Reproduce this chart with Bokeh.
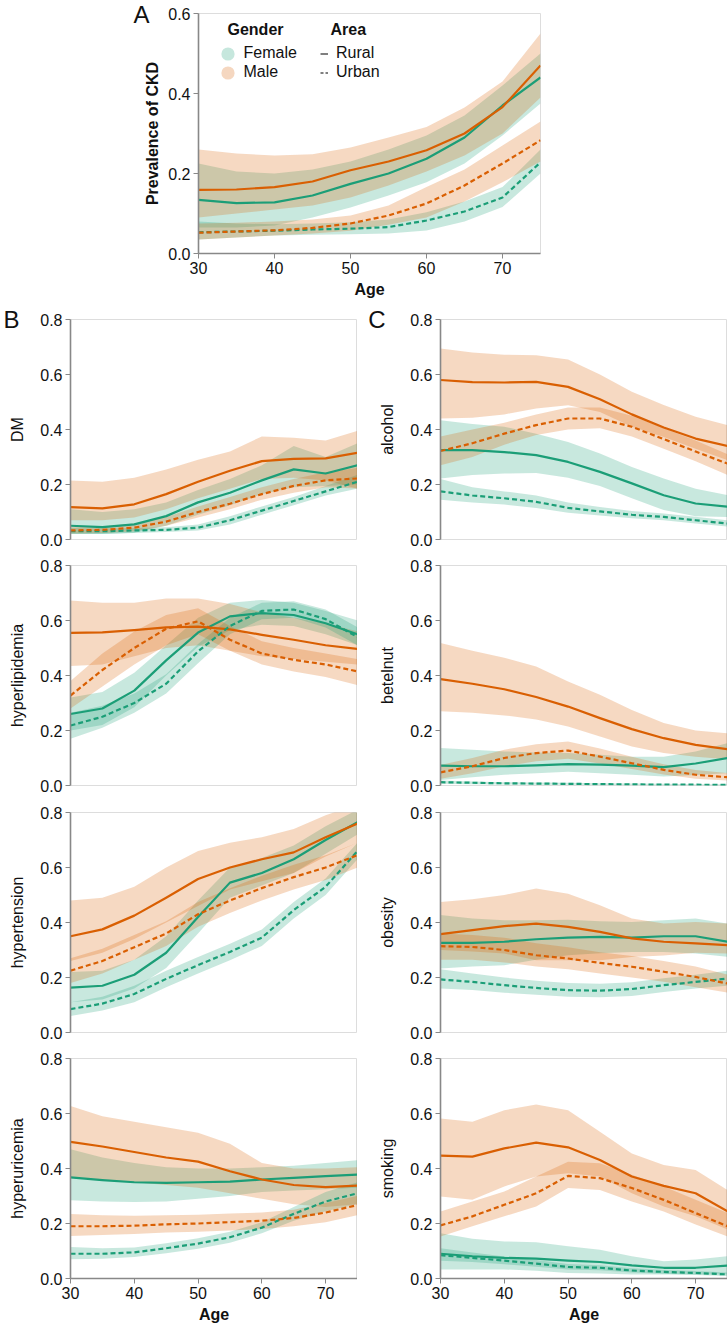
from bokeh.plotting import figure
from bokeh.layouts import column, row
from bokeh.models import (Range1d, FixedTicker, PrintfTickFormatter, Label, Legend,
                          LegendItem, LinearAxis)
from bokeh.embed import file_html
from bokeh.resources import INLINE

# ---------------- data ----------------
AGES = [30, 35, 40, 45, 50, 55, 60, 65, 70, 75]
X_TICKS = [30, 40, 50, 60, 70]
Y_TICKS_A = [0.0, 0.2, 0.4, 0.6]
Y_TICKS_BC = [0.0, 0.2, 0.4, 0.6, 0.8]
GENDERS = ["Female", "Male"]
AREAS = ["Rural", "Urban"]

# Panel A: prevalence of CKD
ckd_rf = [0.134, 0.126, 0.128, 0.145, 0.174, 0.2, 0.237, 0.29, 0.37, 0.44]
ckd_rf_lo = [0.065, 0.065, 0.07, 0.09, 0.115, 0.145, 0.178, 0.225, 0.295, 0.375]
ckd_rf_hi = [0.225, 0.205, 0.2, 0.21, 0.23, 0.26, 0.295, 0.345, 0.42, 0.5]
ckd_rm = [0.159, 0.16, 0.166, 0.18, 0.208, 0.23, 0.258, 0.3, 0.366, 0.47]
ckd_rm_lo = [0.09, 0.1, 0.11, 0.12, 0.14, 0.17, 0.205, 0.245, 0.3, 0.39]
ckd_rm_hi = [0.26, 0.25, 0.245, 0.248, 0.265, 0.29, 0.316, 0.365, 0.43, 0.55]
ckd_uf = [0.053, 0.055, 0.057, 0.06, 0.062, 0.066, 0.0825, 0.105, 0.14, 0.228]
ckd_uf_lo = [0.035, 0.04, 0.045, 0.047, 0.048, 0.05, 0.0575, 0.08, 0.116, 0.2]
ckd_uf_hi = [0.08, 0.075, 0.073, 0.075, 0.078, 0.085, 0.103, 0.13, 0.166, 0.26]
ckd_um = [0.052, 0.055, 0.058, 0.064, 0.075, 0.095, 0.125, 0.17, 0.225, 0.283]
ckd_um_lo = [0.035, 0.04, 0.045, 0.05, 0.057, 0.072, 0.09, 0.13, 0.178, 0.23]
ckd_um_hi = [0.075, 0.077, 0.08, 0.085, 0.095, 0.12, 0.166, 0.21, 0.27, 0.33]

# DM
dm_rm = [0.118, 0.113, 0.128, 0.165, 0.21, 0.25, 0.285, 0.293, 0.295, 0.315]
dm_rm_lo = [0.07, 0.07, 0.08, 0.11, 0.15, 0.185, 0.22, 0.225, 0.215, 0.185]
dm_rm_hi = [0.215, 0.21, 0.225, 0.255, 0.29, 0.32, 0.375, 0.37, 0.36, 0.395]
dm_rf = [0.05, 0.045, 0.055, 0.085, 0.135, 0.17, 0.215, 0.255, 0.24, 0.27]
dm_rf_lo = [0.02, 0.02, 0.025, 0.05, 0.09, 0.125, 0.165, 0.19, 0.195, 0.2]
dm_rf_hi = [0.11, 0.1, 0.11, 0.135, 0.18, 0.22, 0.27, 0.34, 0.3, 0.35]
dm_um = [0.033, 0.035, 0.043, 0.065, 0.1, 0.13, 0.165, 0.195, 0.215, 0.222]
dm_um_lo = [0.022, 0.024, 0.03, 0.05, 0.08, 0.11, 0.145, 0.17, 0.19, 0.185]
dm_um_hi = [0.045, 0.047, 0.058, 0.082, 0.12, 0.155, 0.19, 0.22, 0.245, 0.26]
dm_uf = [0.03, 0.03, 0.033, 0.035, 0.043, 0.07, 0.105, 0.14, 0.175, 0.21]
dm_uf_lo = [0.02, 0.02, 0.024, 0.027, 0.033, 0.055, 0.09, 0.125, 0.16, 0.185]
dm_uf_hi = [0.042, 0.04, 0.042, 0.045, 0.055, 0.085, 0.12, 0.155, 0.195, 0.235]

# hyperlipidemia
hl_rm = [0.555, 0.557, 0.565, 0.575, 0.578, 0.568, 0.548, 0.53, 0.51, 0.497]
hl_rm_lo = [0.435, 0.44, 0.47, 0.5, 0.51, 0.49, 0.47, 0.46, 0.45, 0.44]
hl_rm_hi = [0.673, 0.665, 0.665, 0.68, 0.68, 0.66, 0.63, 0.61, 0.59, 0.56]
hl_rf = [0.26, 0.28, 0.345, 0.455, 0.556, 0.615, 0.627, 0.62, 0.59, 0.55]
hl_rf_lo = [0.2, 0.22, 0.285, 0.4, 0.505, 0.565, 0.585, 0.58, 0.55, 0.51]
hl_rf_hi = [0.32, 0.34, 0.41, 0.51, 0.61, 0.665, 0.675, 0.665, 0.635, 0.6]
hl_um = [0.327, 0.42, 0.5, 0.57, 0.597, 0.53, 0.48, 0.457, 0.44, 0.415]
hl_um_lo = [0.28, 0.36, 0.44, 0.51, 0.55, 0.49, 0.44, 0.415, 0.395, 0.365]
hl_um_hi = [0.38, 0.48, 0.56, 0.62, 0.645, 0.58, 0.525, 0.5, 0.48, 0.46]
hl_uf = [0.218, 0.25, 0.3, 0.37, 0.488, 0.58, 0.635, 0.64, 0.605, 0.54]
hl_uf_lo = [0.17, 0.21, 0.265, 0.335, 0.445, 0.55, 0.605, 0.61, 0.575, 0.51]
hl_uf_hi = [0.265, 0.29, 0.335, 0.405, 0.515, 0.61, 0.665, 0.67, 0.64, 0.575]

# hypertension
ht_rm = [0.35, 0.375, 0.425, 0.49, 0.558, 0.6, 0.63, 0.655, 0.71, 0.76]
ht_rm_lo = [0.26, 0.29, 0.34, 0.4, 0.46, 0.52, 0.55, 0.58, 0.64, 0.69]
ht_rm_hi = [0.48, 0.49, 0.53, 0.6, 0.66, 0.69, 0.71, 0.74, 0.79, 0.83]
ht_rf = [0.163, 0.17, 0.21, 0.29, 0.42, 0.545, 0.58, 0.63, 0.7, 0.765]
ht_rf_lo = [0.11, 0.12, 0.16, 0.235, 0.36, 0.49, 0.535, 0.58, 0.65, 0.72]
ht_rf_hi = [0.22, 0.225, 0.265, 0.35, 0.48, 0.6, 0.635, 0.68, 0.75, 0.81]
ht_um = [0.225, 0.26, 0.31, 0.36, 0.43, 0.48, 0.525, 0.565, 0.6, 0.645]
ht_um_lo = [0.18, 0.215, 0.265, 0.315, 0.385, 0.435, 0.48, 0.52, 0.555, 0.6]
ht_um_hi = [0.27, 0.305, 0.355, 0.405, 0.475, 0.525, 0.57, 0.61, 0.645, 0.69]
ht_uf = [0.085, 0.105, 0.14, 0.195, 0.245, 0.293, 0.345, 0.445, 0.53, 0.66]
ht_uf_lo = [0.06, 0.08, 0.11, 0.165, 0.215, 0.263, 0.315, 0.415, 0.5, 0.63]
ht_uf_hi = [0.11, 0.13, 0.17, 0.225, 0.275, 0.323, 0.375, 0.475, 0.56, 0.69]

# hyperuricemia
hu_rm = [0.497, 0.48, 0.46, 0.44, 0.425, 0.39, 0.36, 0.34, 0.332, 0.338]
hu_rm_lo = [0.37, 0.36, 0.35, 0.34, 0.33, 0.31, 0.29, 0.27, 0.26, 0.27]
hu_rm_hi = [0.627, 0.59, 0.57, 0.55, 0.53, 0.49, 0.42, 0.4, 0.4, 0.405]
hu_rf = [0.368, 0.358, 0.35, 0.348, 0.35, 0.352, 0.36, 0.366, 0.372, 0.378]
hu_rf_lo = [0.285, 0.28, 0.278, 0.28, 0.29, 0.3, 0.315, 0.32, 0.325, 0.33]
hu_rf_hi = [0.47, 0.44, 0.42, 0.405, 0.4, 0.4, 0.405, 0.41, 0.42, 0.43]
hu_um = [0.19, 0.19, 0.192, 0.197, 0.2, 0.205, 0.21, 0.22, 0.24, 0.267]
hu_um_lo = [0.155, 0.158, 0.162, 0.167, 0.17, 0.175, 0.18, 0.19, 0.205, 0.23]
hu_um_hi = [0.235, 0.23, 0.228, 0.23, 0.232, 0.236, 0.24, 0.25, 0.275, 0.3]
hu_uf = [0.09, 0.09, 0.095, 0.11, 0.127, 0.15, 0.185, 0.235, 0.28, 0.31]
hu_uf_lo = [0.07, 0.072, 0.078, 0.092, 0.108, 0.13, 0.165, 0.21, 0.245, 0.27]
hu_uf_hi = [0.115, 0.11, 0.113, 0.128, 0.146, 0.17, 0.205, 0.26, 0.315, 0.35]

# alcohol
al_rm = [0.58, 0.572, 0.571, 0.573, 0.555, 0.51, 0.455, 0.407, 0.367, 0.34]
al_rm_lo = [0.44, 0.443, 0.455, 0.476, 0.488, 0.464, 0.41, 0.373, 0.33, 0.288]
al_rm_hi = [0.695, 0.68, 0.672, 0.67, 0.655, 0.6, 0.537, 0.489, 0.446, 0.416]
al_rf = [0.325, 0.325, 0.318, 0.307, 0.282, 0.246, 0.204, 0.161, 0.131, 0.119]
al_rf_lo = [0.222, 0.235, 0.24, 0.242, 0.225, 0.195, 0.15, 0.107, 0.085, 0.082]
al_rf_hi = [0.434, 0.42, 0.41, 0.385, 0.355, 0.313, 0.264, 0.222, 0.185, 0.161]
al_um = [0.322, 0.35, 0.385, 0.416, 0.44, 0.44, 0.41, 0.365, 0.32, 0.276]
al_um_lo = [0.27, 0.3, 0.345, 0.38, 0.4, 0.405, 0.375, 0.33, 0.285, 0.235]
al_um_hi = [0.375, 0.4, 0.425, 0.455, 0.48, 0.48, 0.45, 0.405, 0.36, 0.31]
al_uf = [0.175, 0.16, 0.15, 0.137, 0.115, 0.102, 0.09, 0.082, 0.07, 0.058]
al_uf_lo = [0.145, 0.135, 0.127, 0.115, 0.097, 0.087, 0.077, 0.07, 0.058, 0.047]
al_uf_hi = [0.22, 0.19, 0.175, 0.16, 0.135, 0.118, 0.104, 0.095, 0.083, 0.07]

# betelnut
bn_rm = [0.387, 0.37, 0.35, 0.322, 0.287, 0.245, 0.205, 0.172, 0.148, 0.132]
bn_rm_lo = [0.27, 0.265, 0.255, 0.24, 0.215, 0.178, 0.142, 0.118, 0.105, 0.095]
bn_rm_hi = [0.518, 0.49, 0.465, 0.433, 0.378, 0.33, 0.275, 0.227, 0.2, 0.19]
bn_rf = [0.072, 0.07, 0.07, 0.073, 0.078, 0.076, 0.072, 0.067, 0.08, 0.1]
bn_rf_lo = [0.02, 0.03, 0.039, 0.045, 0.05, 0.045, 0.039, 0.033, 0.038, 0.045]
bn_rf_hi = [0.136, 0.13, 0.124, 0.12, 0.118, 0.112, 0.105, 0.105, 0.124, 0.154]
bn_um = [0.048, 0.07, 0.1, 0.118, 0.127, 0.105, 0.081, 0.057, 0.039, 0.03]
bn_um_lo = [0.025, 0.045, 0.07, 0.088, 0.097, 0.08, 0.06, 0.04, 0.025, 0.018]
bn_um_hi = [0.075, 0.1, 0.13, 0.15, 0.16, 0.135, 0.105, 0.077, 0.056, 0.045]
bn_uf = [0.012, 0.01, 0.008, 0.007, 0.006, 0.005, 0.004, 0.003, 0.003, 0.002]
bn_uf_lo = [0.006, 0.005, 0.004, 0.003, 0.003, 0.002, 0.002, 0.001, 0.001, 0.0]
bn_uf_hi = [0.018, 0.015, 0.012, 0.011, 0.01, 0.008, 0.007, 0.006, 0.005, 0.005]

# obesity
ob_rm = [0.358, 0.372, 0.387, 0.396, 0.384, 0.366, 0.342, 0.33, 0.324, 0.318]
ob_rm_lo = [0.3, 0.295, 0.287, 0.263, 0.263, 0.263, 0.275, 0.28, 0.29, 0.287]
ob_rm_hi = [0.475, 0.485, 0.5, 0.524, 0.505, 0.463, 0.415, 0.396, 0.402, 0.396]
ob_rf = [0.326, 0.326, 0.33, 0.339, 0.345, 0.348, 0.345, 0.35, 0.35, 0.33]
ob_rf_lo = [0.233, 0.24, 0.245, 0.265, 0.281, 0.288, 0.293, 0.293, 0.287, 0.275]
ob_rf_hi = [0.427, 0.415, 0.408, 0.408, 0.41, 0.405, 0.402, 0.408, 0.415, 0.396]
ob_um = [0.314, 0.311, 0.3, 0.281, 0.269, 0.253, 0.239, 0.221, 0.202, 0.178]
ob_um_lo = [0.265, 0.265, 0.255, 0.24, 0.23, 0.215, 0.2, 0.185, 0.165, 0.145]
ob_um_hi = [0.36, 0.355, 0.345, 0.325, 0.31, 0.292, 0.278, 0.26, 0.24, 0.21]
ob_uf = [0.193, 0.184, 0.172, 0.162, 0.154, 0.152, 0.158, 0.172, 0.184, 0.196]
ob_uf_lo = [0.16, 0.155, 0.145, 0.137, 0.13, 0.128, 0.133, 0.147, 0.16, 0.17]
ob_uf_hi = [0.23, 0.215, 0.2, 0.188, 0.18, 0.177, 0.183, 0.197, 0.21, 0.225]

# smoking
sm_rm = [0.447, 0.443, 0.473, 0.494, 0.477, 0.431, 0.371, 0.337, 0.31, 0.244]
sm_rm_lo = [0.298, 0.286, 0.335, 0.371, 0.383, 0.371, 0.31, 0.262, 0.226, 0.178]
sm_rm_hi = [0.582, 0.57, 0.612, 0.633, 0.612, 0.534, 0.455, 0.413, 0.395, 0.322]
sm_rf = [0.09, 0.081, 0.075, 0.072, 0.065, 0.06, 0.048, 0.039, 0.039, 0.047]
sm_rf_lo = [0.033, 0.033, 0.033, 0.028, 0.02, 0.018, 0.015, 0.015, 0.015, 0.015]
sm_rf_hi = [0.165, 0.145, 0.135, 0.132, 0.117, 0.105, 0.081, 0.063, 0.069, 0.081]
sm_um = [0.193, 0.226, 0.268, 0.31, 0.373, 0.365, 0.329, 0.286, 0.238, 0.19]
sm_um_lo = [0.153, 0.19, 0.226, 0.262, 0.329, 0.322, 0.28, 0.244, 0.196, 0.153]
sm_um_hi = [0.244, 0.28, 0.316, 0.371, 0.425, 0.419, 0.377, 0.335, 0.286, 0.238]
sm_uf = [0.085, 0.075, 0.065, 0.054, 0.042, 0.039, 0.029, 0.024, 0.02, 0.015]
sm_uf_lo = [0.065, 0.06, 0.052, 0.043, 0.033, 0.03, 0.022, 0.017, 0.013, 0.009]
sm_uf_hi = [0.11, 0.095, 0.08, 0.067, 0.053, 0.048, 0.037, 0.031, 0.027, 0.022]

# ---------------- styling ----------------
FONT = "Liberation Sans"
GREEN = "#1b9e77"
ORANGE = "#d95f02"
AXIS_GRAY = "#888888"
TXT = "#111111"
DASH = "5 3"
FS = "16px"
X0, X1 = 30, 75


def groups(rf, rf_lo, rf_hi, rm, rm_lo, rm_hi, uf, uf_lo, uf_hi, um, um_lo, um_hi):
    return [
        (rf_lo, rf_hi, rf, GREEN, "solid"),
        (rm_lo, rm_hi, rm, ORANGE, "solid"),
        (uf_lo, uf_hi, uf, GREEN, DASH),
        (um_lo, um_hi, um, ORANGE, DASH),
    ]


def panel(ylabel, grp, fw, fh, ymax, yticks, top, bottom, left, right,
          show_x, bold_y, ylab_standoff):
    p = figure(frame_width=fw, frame_height=fh,
               x_range=Range1d(X0, X1), y_range=Range1d(0, ymax),
               output_backend="svg", toolbar_location=None,
               min_border_left=left, min_border_right=right,
               min_border_top=top, min_border_bottom=bottom,
               background_fill_color="white", border_fill_color="white",
               outline_line_color="#dddddd", outline_line_width=1)
    p.grid.visible = False
    for lo, hi, mid, col, dash in grp:
        p.varea(x=AGES, y1=lo, y2=hi, fill_color=col, fill_alpha=0.24)
    for lo, hi, mid, col, dash in grp:
        p.line(x=AGES, y=mid, line_color=col, line_width=2.2, line_dash=dash,
               line_join="round")
    ya = p.yaxis[0]
    ya.ticker = FixedTicker(ticks=yticks)
    ya.formatter = PrintfTickFormatter(format="%.1f")
    ya.axis_line_color = AXIS_GRAY
    ya.axis_line_width = 1.6
    ya.major_tick_line_color = AXIS_GRAY
    ya.major_tick_out = 5
    ya.major_tick_in = 0
    ya.minor_tick_line_color = None
    ya.major_label_standoff = 3
    ya.major_label_text_font = FONT
    ya.major_label_text_font_size = FS
    ya.major_label_text_color = TXT
    ya.axis_label = ylabel
    ya.axis_label_text_font = FONT
    ya.axis_label_text_font_size = FS
    ya.axis_label_text_color = TXT
    ya.axis_label_text_font_style = "bold" if bold_y else "normal"
    ya.axis_label_standoff = ylab_standoff
    xa = p.xaxis[0]
    if show_x:
        xa.ticker = FixedTicker(ticks=X_TICKS)
        xa.axis_line_color = AXIS_GRAY
        xa.axis_line_width = 1.3
        xa.major_tick_line_color = AXIS_GRAY
        xa.major_tick_out = 5
        xa.major_tick_in = 0
        xa.minor_tick_line_color = None
        xa.major_label_standoff = 3
        xa.major_label_text_font = FONT
        xa.major_label_text_font_size = FS
        xa.major_label_text_color = TXT
        xa.axis_label = "Age"
        xa.axis_label_text_font = FONT
        xa.axis_label_text_font_size = FS
        xa.axis_label_text_font_style = "bold"
        xa.axis_label_text_color = TXT
        xa.axis_label_standoff = 4
    else:
        xa.visible = False
    return p


def letter(p, txt, standoff):
    # panel letter drawn as the single tick label of an extra, bare left axis
    p.extra_y_ranges = {"letter": Range1d(0, 1)}
    ax = LinearAxis(y_range_name="letter", ticker=FixedTicker(ticks=[1]),
                    major_label_overrides={1: txt},
                    axis_line_color=None, major_tick_line_color=None,
                    minor_tick_line_color=None, major_tick_out=0, major_tick_in=0,
                    major_label_standoff=standoff, major_label_text_font=FONT,
                    major_label_text_font_size="24px", major_label_text_color=TXT)
    p.add_layout(ax, "left")


# ---------------- panel A ----------------
A_FW, A_FH = 342, 240
pA = panel("Prevalence of CKD",
           groups(ckd_rf, ckd_rf_lo, ckd_rf_hi, ckd_rm, ckd_rm_lo, ckd_rm_hi,
                  ckd_uf, ckd_uf_lo, ckd_uf_hi, ckd_um, ckd_um_lo, ckd_um_hi),
           A_FW, A_FH, 0.6, Y_TICKS_A, 13, 48, 198, 188, True, True, 4)
letter(pA, "A", -8)

NAN = float("nan")
g_f = pA.scatter(x=[AGES[0]], y=[NAN], marker="circle", fill_color=GREEN,
                 fill_alpha=0.25, line_color=None)
g_m = pA.scatter(x=[AGES[0]], y=[NAN], marker="circle", fill_color=ORANGE,
                 fill_alpha=0.25, line_color=None)
a_r = pA.line(x=[AGES[0]], y=[NAN], line_color="#555555", line_width=1.5)
a_u = pA.line(x=[AGES[0]], y=[NAN], line_color="#555555", line_width=1.5,
              line_dash="3 2")


def legend(items, loc, gw, gh, standoff):
    lg = Legend(items=items, location=loc,
                label_text_font=FONT, label_text_font_size=FS,
                label_text_color=TXT, label_standoff=standoff,
                glyph_width=gw, glyph_height=gh, label_height=19,
                spacing=0, padding=0, margin=0,
                border_line_color=None, background_fill_alpha=0)
    pA.add_layout(lg)


# gender swatches: one single-row legend per item (large glyph box -> 13px circle)
legend([LegendItem(label=GENDERS[0], renderers=[g_f])], (12.5, 183.5), 33, 33, -4)
legend([LegendItem(label=GENDERS[1], renderers=[g_m])], (12.5, 164.5), 33, 33, -4)
legend([LegendItem(label=AREAS[0], renderers=[a_r]),
        LegendItem(label=AREAS[1], renderers=[a_u])], (122, 171.5), 8, 19, 8)

for ttl, xo in (("Gender", 29), ("Area", 132)):
    pA.add_layout(Label(x=xo, y=A_FH - 16, x_units="screen", y_units="screen",
                        text=ttl, text_font=FONT, text_font_size=FS,
                        text_font_style="bold", text_color=TXT,
                        text_align="left", text_baseline="middle"))

# ---------------- panels B and C ----------------
FW, FH = 287, 220
B_LEFT, C_LEFT = 70, 83
TOPS = [18, 13, 14, 13]
BOTTOMS = [13, 13, 13, 48]

b_specs = [
    ("DM", groups(dm_rf, dm_rf_lo, dm_rf_hi, dm_rm, dm_rm_lo, dm_rm_hi,
                  dm_uf, dm_uf_lo, dm_uf_hi, dm_um, dm_um_lo, dm_um_hi)),
    ("hyperlipidemia", groups(hl_rf, hl_rf_lo, hl_rf_hi, hl_rm, hl_rm_lo, hl_rm_hi,
                              hl_uf, hl_uf_lo, hl_uf_hi, hl_um, hl_um_lo, hl_um_hi)),
    ("hypertension", groups(ht_rf, ht_rf_lo, ht_rf_hi, ht_rm, ht_rm_lo, ht_rm_hi,
                            ht_uf, ht_uf_lo, ht_uf_hi, ht_um, ht_um_lo, ht_um_hi)),
    ("hyperuricemia", groups(hu_rf, hu_rf_lo, hu_rf_hi, hu_rm, hu_rm_lo, hu_rm_hi,
                             hu_uf, hu_uf_lo, hu_uf_hi, hu_um, hu_um_lo, hu_um_hi)),
]
c_specs = [
    ("alcohol", groups(al_rf, al_rf_lo, al_rf_hi, al_rm, al_rm_lo, al_rm_hi,
                       al_uf, al_uf_lo, al_uf_hi, al_um, al_um_lo, al_um_hi)),
    ("betelnut", groups(bn_rf, bn_rf_lo, bn_rf_hi, bn_rm, bn_rm_lo, bn_rm_hi,
                        bn_uf, bn_uf_lo, bn_uf_hi, bn_um, bn_um_lo, bn_um_hi)),
    ("obesity", groups(ob_rf, ob_rf_lo, ob_rf_hi, ob_rm, ob_rm_lo, ob_rm_hi,
                       ob_uf, ob_uf_lo, ob_uf_hi, ob_um, ob_um_lo, ob_um_hi)),
    ("smoking", groups(sm_rf, sm_rf_lo, sm_rf_hi, sm_rm, sm_rm_lo, sm_rm_hi,
                       sm_uf, sm_uf_lo, sm_uf_hi, sm_um, sm_um_lo, sm_um_hi)),
]


def build_column(specs, left, tag, standoff):
    figs = []
    n = len(specs)
    for i, (lab, grp) in enumerate(specs):
        f = panel(lab, grp, FW, FH, 0.8, Y_TICKS_BC, TOPS[i], BOTTOMS[i], left, 0,
                  i == n - 1, False, 11)
        if i == 0:
            letter(f, tag, standoff)
        figs.append(f)
    return column(*figs, spacing=0)


colB = build_column(b_specs, B_LEFT, "B", -13)
colC = build_column(c_specs, C_LEFT, "C", -9)

layout = column(pA, row(colB, colC, spacing=0), spacing=0)

open("out.html", "w").write(file_html(layout, INLINE))
